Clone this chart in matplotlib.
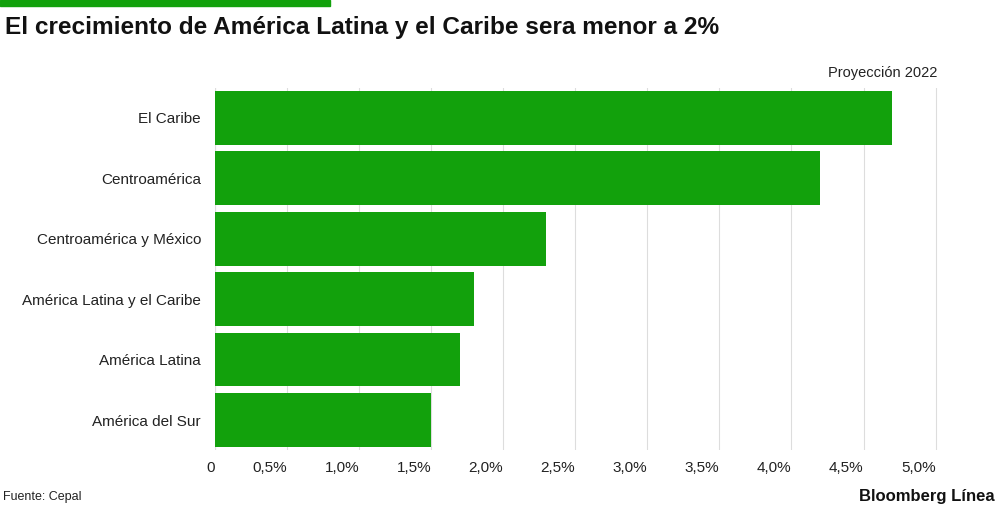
import matplotlib
matplotlib.use("Agg")
import matplotlib.pyplot as plt
from matplotlib.patches import Rectangle

categories = ["El Caribe", "Centroamérica", "Centroamérica y México",
              "América Latina y el Caribe", "América Latina", "América del Sur"]
values = [4.7, 4.2, 2.3, 1.8, 1.7, 1.5]
ticks = [0, 0.5, 1.0, 1.5, 2.0, 2.5, 3.0, 3.5, 4.0, 4.5, 5.0]
tick_labels = ["0", "0,5%", "1,0%", "1,5%", "2,0%", "2,5%", "3,0%", "3,5%", "4,0%", "4,5%", "5,0%"]

plt.rcParams['font.family'] = ['Liberation Sans', 'DejaVu Sans']
fig = plt.figure(figsize=(10, 5.07), dpi=100)
ax = fig.add_axes([0.215, 0.112, 0.7235, 0.715])
green = "#12a10c"
y = list(range(len(categories)))
ax.barh(y, values, height=0.89, color=green, zorder=2)
ax.set_ylim(len(categories) - 0.5, -0.5)
ax.set_xlim(0, 5.02)
ax.set_yticks(y)
ax.set_yticklabels(categories, fontsize=11, color="#222")
ax.set_xticks(ticks)
ax.set_xticklabels(tick_labels, fontsize=11, color="#222", ha="right")
ax.tick_params(length=0, pad=8)
ax.tick_params(axis="y", pad=10)
ax.grid(axis="x", color="#dddddd", lw=0.8, zorder=0)
for s in ax.spines.values():
    s.set_visible(False)
ax.axvline(0, color="#cccccc", lw=0.8, zorder=1)

fig.patches.append(Rectangle((0, 1 - 6/507), 0.33, 6/507, transform=fig.transFigure, color=green))
fig.text(0.005, 0.945, "El crecimiento de América Latina y el Caribe sera menor a 2%",
         fontsize=17.6, fontweight="bold", va="center", color="#111")
fig.text(0.937, 0.857, "Proyección 2022", fontsize=10.5, ha="right", va="center", color="#222")
fig.text(0.003, 0.02, "Fuente: Cepal", fontsize=9, va="center", color="#222")
fig.text(0.995, 0.02, "Bloomberg Línea", fontsize=12, fontweight="bold", ha="right", va="center", color="#111")
fig.savefig("out.png", dpi=100)
